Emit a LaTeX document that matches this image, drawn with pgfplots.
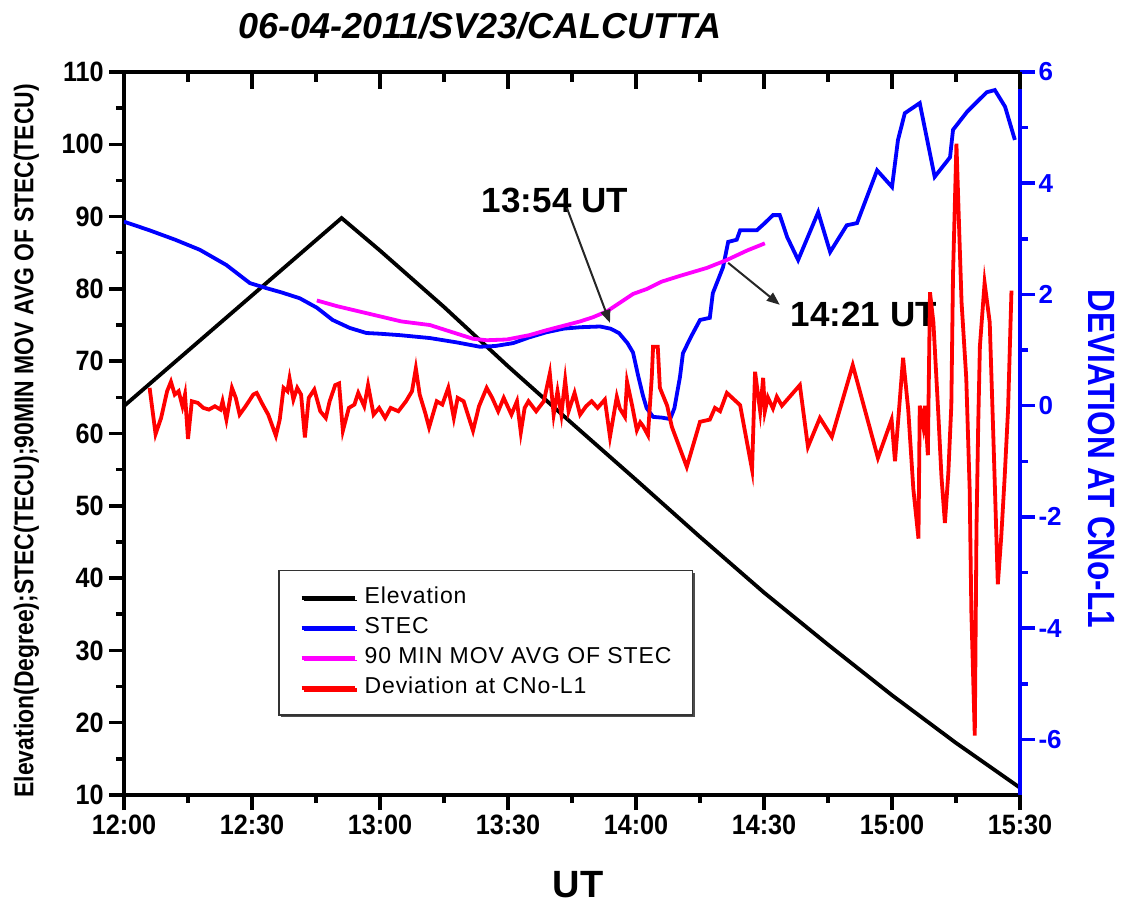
\documentclass[border=0pt]{standalone}
\usepackage{fontspec}
\setmainfont{Liberation Sans}
\newfontfamily\condT[FakeStretch=0.9]{Liberation Sans}
\newfontfamily\condL[FakeStretch=0.85]{Liberation Sans}
\newfontfamily\condR[FakeStretch=0.83]{Liberation Sans}
\newfontfamily\legfont[LetterSpace=4]{Liberation Sans}
\usepackage{pgfplots}
\pgfplotsset{compat=1.18}
\usetikzlibrary{shadows,arrows.meta}
\definecolor{pblue}{RGB}{0,0,255}
\definecolor{pred}{RGB}{255,0,0}
\definecolor{pmag}{RGB}{255,0,255}
\begin{document}
\begin{tikzpicture}
\path[use as bounding box] (-124pt,-112pt) rectangle (1002pt,795pt);
\begin{axis}[
  scale only axis, width=896pt, height=723pt,
  xmin=0, xmax=210, ymin=10, ymax=110,
  xtick={0,30,...,210},
  xticklabels={12:00,12:30,13:00,13:30,14:00,14:30,15:00,15:30},
  ytick={10,20,...,110},
  minor x tick num=1, minor y tick num=1,
  xtick pos=left, ytick pos=left,
  tick align=outside,
  major tick length=15pt, minor tick length=8pt,
  tick style={line width=3.5pt, black},
  line width=4pt,
  axis line style={line width=4pt},
  /pgf/number format/assume math mode=true,
  ticklabel style={font=\fontsize{28}{30}\selectfont\condT\bfseries},
  title={06-04-2011/SV23/CALCUTTA},
  title style={at={(0.397,1.055)}, anchor=center, font=\fontsize{36}{40}\selectfont\bfseries\itshape},
  xlabel={UT},
  xlabel style={at={(0.507,-0.1245)}, anchor=center, font=\fontsize{38}{42}\selectfont\bfseries},
  ylabel={Elevation(Degree);STEC(TECU);90MIN MOV AVG OF STEC(TECU)},
  ylabel style={at={(-0.109,0.49)}, anchor=center, font=\fontsize{27}{30}\selectfont\condL\bfseries},
]
\addplot[black, line width=3.8pt] coordinates {
(0,63.8) (51,89.8) (60,85.3) (75,77.5) (90,69.3) (105,61.4) (120,53.6) (135,45.7) (150,38.0) (165,30.8) (180,23.8) (195,17.2) (210,11.0)
};
\addplot[pblue, line width=3.8pt] coordinates {
(0,89.3) (6,88.1) (12,86.8) (17.8,85.4) (24,83.3) (29.5,80.8) (33.4,80.1) (37,79.5) (41.2,78.7) (45.2,77.4) (48.9,75.7) (52.9,74.6) (56.8,73.9) (60,73.8) (64.7,73.6) (71.7,73.2) (78,72.6) (83.4,72.0) (87,72.1) (91.2,72.5) (95,73.3) (99,74.0) (103,74.5) (107,74.7) (111.6,74.8) (114,74.5) (116,73.9) (118,72.5) (119.3,71.2) (120.5,68) (121.6,65.3) (122.5,63.5) (124,62.3) (126,62.2) (128,62.0) (129,63.5) (130.3,67.8) (131,71.1) (133,73.5) (135,75.7) (137.3,76.0) (138,79.4) (140.4,83) (141.6,86.5) (143.6,86.8) (144.4,88.1) (148.3,88.1) (150,89) (152.1,90.2) (153.7,90.2) (155.4,87.2) (158,84) (162.7,90.6) (165.5,85.1) (169.4,88.8) (171.8,89.1) (176.5,96.4) (180,94.1) (181.4,100.6) (183,104.3) (186.5,105.7) (190,95.5) (193.6,98.2) (194.3,102) (197.6,104.5) (202.2,107.2) (204.1,107.5) (206.5,105.2) (208.8,100.6)
};
\addplot[pmag, line width=3.8pt] coordinates {
(45.2,78.4) (50,77.6) (55,76.9) (60,76.2) (65,75.5) (71.7,75.0) (77,74.0) (81.8,73.1) (85,72.9) (89.7,73.0) (95,73.6) (99.1,74.3) (103,74.9) (106.9,75.5) (110,76.1) (113.2,76.9) (116,78.0) (119.3,79.3) (122.6,80.0) (126,81.0) (130.3,81.8) (136.6,82.9) (141.3,84.0) (146,85.3) (150.2,86.3)
};
\node[font=\fontsize{35}{40}\selectfont\bfseries] at (axis cs:101,92.2) {13:54 UT};
\draw[black!85, line width=2pt, -{Triangle[length=13pt,width=10pt]}] (axis cs:103.8,91.2) -- (axis cs:113.9,75.3);
\node[font=\fontsize{35}{40}\selectfont\bfseries] at (axis cs:173.4,76.5) {14:21 UT};
\draw[black!85, line width=2pt, -{Triangle[length=13pt,width=10pt]}] (axis cs:141.6,83.6) -- (axis cs:153.7,77.8);
\end{axis}
\begin{axis}[
  scale only axis, width=896pt, height=723pt,
  xmin=0, xmax=210, ymin=-7, ymax=6,
  axis x line=none, axis y line*=right,
  ytick={-6,-4,...,6}, minor y tick num=1,
  tick align=outside,
  major tick length=15pt, minor tick length=8pt,
  tick style={line width=3.5pt, pblue},
  y axis line style={line width=4pt, pblue},
  /pgf/number format/assume math mode=true,
  yticklabel style={font=\fontsize{26}{30}\selectfont\bfseries, text=pblue},
  ylabel={DEVIATION AT CNo-L1},
  ylabel style={at={(1.0915,0.465)}, anchor=center, rotate=180, text=pblue, font=\fontsize{38}{42}\selectfont\condR\bfseries},
  legend style={at={(0.1719,0.3112)}, anchor=north west, draw=black!80, line width=1.5pt, fill=white,
    font=\fontsize{23}{26}\selectfont\legfont, inner xsep=21pt, inner ysep=16pt, row sep=8pt,
    nodes={inner sep=0pt, text height=17pt, text depth=5pt},
    /tikz/every odd column/.append style={column sep=8pt},
    drop shadow={shadow xshift=2.5pt, shadow yshift=-2.5pt, fill=black!70, opacity=1}},
  legend cell align=left,
  legend image code/.code={\draw[#1, line width=3.8pt] (0pt,0pt) -- (53pt,0pt);},
]
\addlegendimage{black}
\addlegendentry{Elevation}
\addlegendimage{pblue}
\addlegendentry{STEC}
\addlegendimage{pmag}
\addlegendentry{90 MIN MOV AVG OF STEC}
\addplot[pred, line width=3.8pt] coordinates {
(6.0,0.32) (7.4,-0.51) (8.7,-0.22) (10.1,0.26) (11.0,0.43) (11.9,0.20) (12.8,0.26) (13.7,-0.01) (14.3,0.20) (15.0,-0.60) (15.9,0.08) (17.3,0.05) (18.6,-0.04) (19.9,-0.07) (21.3,-0.01) (22.6,-0.07) (23.1,0.08) (24.0,-0.25) (25.3,0.32) (26.2,0.14) (27.1,-0.16) (28.5,-0.01) (30.3,0.20) (31.1,0.23) (32.5,0.02) (33.8,-0.16) (35.6,-0.54) (36.5,-0.25) (37.4,0.32) (38.3,0.26) (38.8,0.49) (39.7,0.11) (40.6,0.32) (41.5,0.20) (42.4,-0.57) (43.3,0.14) (44.6,0.29) (46.0,-0.10) (47.3,-0.22) (48.2,0.08) (49.5,0.37) (50.4,0.40) (51.3,-0.45) (52.7,-0.04) (54.0,0.02) (54.9,0.23) (56.3,-0.01) (57.2,0.37) (58.5,-0.16) (59.8,-0.04) (61.2,-0.22) (62.5,-0.04) (64.3,-0.10) (66.1,0.08) (67.5,0.26) (68.4,0.67) (69.3,0.20) (70.6,-0.13) (71.5,-0.39) (73.3,0.08) (74.6,0.02) (76.0,0.32) (77.3,-0.22) (78.2,0.14) (79.6,0.08) (81.8,-0.45) (83.2,-0.01) (85.0,0.32) (86.3,0.14) (87.7,-0.10) (89.0,0.14) (90.8,-0.16) (92.1,0.08) (93.0,-0.48) (93.9,-0.04) (94.8,0.08) (96.6,-0.10) (98.4,0.08) (99.8,0.58) (100.7,-0.16) (101.6,0.26) (102.5,-0.16) (103.4,0.46) (104.2,-0.10) (105.6,0.23) (106.9,-0.16) (108.3,-0.01) (109.6,0.08) (111.0,-0.04) (112.7,0.11) (113.9,-0.56) (115.5,0.16) (116.2,-0.05) (117.4,-0.20) (117.9,0.43) (119.1,0.0) (120.2,-0.44) (121.0,-0.30) (121.6,-0.36) (122.8,-0.53) (123.7,0.52) (124.0,1.06) (125.1,1.06) (125.6,0.32) (127.3,0.0) (128.4,-0.38) (131.9,-1.10) (135.0,-0.29) (137.3,-0.25) (138.5,-0.04) (139.7,-0.10) (141.3,0.23) (144.4,0.01) (147.2,-1.15) (147.9,0.61) (149.1,-0.10) (149.8,0.50) (150.2,-0.10) (150.9,0.15) (152.1,-0.05) (153.0,0.16) (154.2,0.0) (158.4,0.37) (160.3,-0.74) (163.1,-0.22) (165.9,-0.56) (170.8,0.73) (176.7,-0.94) (179.9,-0.25) (180.7,-1.0) (181.5,-0.21) (182.6,0.86) (183.8,-0.07) (185.0,-1.5) (186.2,-2.39) (186.5,0.0) (187.3,-0.36) (187.7,0.0) (188.4,-0.89) (188.9,2.04) (189.7,1.5) (190.8,-0.07) (191.6,-1.29) (192.4,-2.11) (193.2,-1.21) (193.9,0.0) (194.3,2.36) (195.1,4.71) (195.9,2.79) (196.3,1.86) (197.4,0.5) (198.2,-1.5) (198.6,-3.71) (199.4,-5.93) (199.8,-2.21) (200.2,-0.36) (200.6,1.07) (201.7,2.21) (202.9,1.5) (203.7,-0.43) (204.1,-1.43) (204.8,-3.21) (205.6,-2.36) (206.4,-1.29) (207.2,-0.07) (208.0,2.07)
};
\addlegendentry{Deviation at CNo-L1}
\end{axis}
\begin{axis}[
  scale only axis, width=896pt, height=723pt,
  xmin=0, xmax=210, ymin=0, ymax=1,
  axis y line=none, axis x line*=top,
  xtick={0,30,...,210}, minor x tick num=1, xticklabels={},
  tick align=inside,
  major tick length=17pt, minor tick length=10pt,
  tick style={line width=3.5pt, black},
  x axis line style={line width=4pt, -},
]
\end{axis}
\end{tikzpicture}
\end{document}
